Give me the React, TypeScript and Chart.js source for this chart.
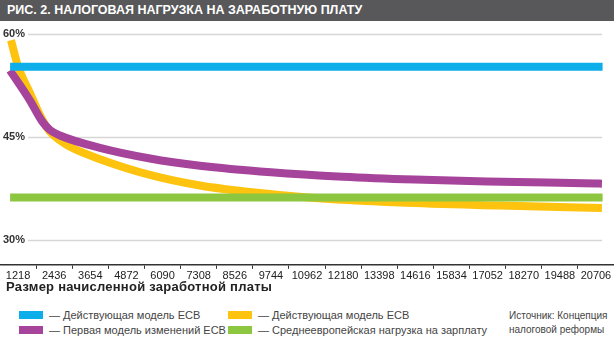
import React, { useEffect, useRef } from "react";
import { Chart, registerables } from "chart.js";

Chart.register(...registerables);

// ---- data ----
const tickLabels = [
  "1218", "2436", "3654", "4872", "6090", "7308", "8526", "9744", "10962",
  "12180", "13398", "14616", "15834", "17052", "18270", "19488", "20706",
];
const yTicks = [30, 45, 60];

const blueX = [950, 20930];
const blueY = [55.25, 55.25];

const greenX = [950, 20930];
const greenY = [36.15, 36.15];

const purpleX = [946, 1621, 2025, 2295, 2632, 3981, 5667, 7353, 9747, 12175, 14603, 17031, 20706, 20908];
const purpleY = [54.7, 50.3, 47.3, 46.0, 45.2, 43.4, 41.85, 40.8, 39.85, 39.2, 38.78, 38.5, 38.2, 38.18];

const yellowX = [980, 1216, 1621, 1958, 2295, 2632, 2969, 3981, 5667, 7353, 9039, 10894, 14097, 17469, 20908];
const yellowY = [59.1, 55.3, 51.4, 48.15, 45.75, 44.5, 43.55, 41.75, 39.45, 37.9, 36.95, 36.2, 35.42, 34.98, 34.62];

const legendLeft = [
  { color: "#0eaeea", text: "— Действующая модель ЕСВ" },
  { color: "#a6439a", text: "— Первая модель изменений ЕСВ" },
];
const legendRight = [
  { color: "#fdc30e", text: "— Действующая модель ЕСВ" },
  { color: "#8dc63f", text: "— Среднеевропейская нагрузка на зарплату" },
];

const FONT = "'Liberation Sans', Arial, Helvetica, sans-serif";

const pts = (xs: number[], ys: number[]) => xs.map((x, i) => ({ x, y: ys[i] }));

const gridPlugin = {
  id: "customGrid",
  beforeDatasetsDraw(chart: any) {
    const { ctx, chartArea } = chart;
    const y = chart.scales.y;
    ctx.save();
    ctx.strokeStyle = "#d6d6d6";
    ctx.lineWidth = 1.5;
    for (const v of yTicks) {
      const py = Math.round(y.getPixelForValue(v)) + 0.5;
      ctx.beginPath();
      ctx.moveTo(chartArea.left + 28, py);
      ctx.lineTo(chartArea.right - 12, py);
      ctx.stroke();
    }
    ctx.restore();
  },
};

export default function App() {
  const ref = useRef<HTMLCanvasElement>(null);

  useEffect(() => {
    if (!ref.current) return;
    const line = (label: string, data: any[], color: string) => ({
      label,
      data,
      xAxisID: "xs",
      yAxisID: "y",
      borderColor: color,
      backgroundColor: color,
      borderWidth: 8,
      pointRadius: 0,
      fill: false,
      cubicInterpolationMode: "monotone" as const,
      borderCapStyle: "butt" as const,
    });
    const chart = new Chart(ref.current, {
      type: "line",
      data: {
        labels: tickLabels,
        datasets: [
          line("Действующая модель ЕСВ", pts(blueX, blueY), "#0eaeea"),
          line("Первая модель изменений ЕСВ", pts(purpleX, purpleY), "#a6439a"),
          line("Среднеевропейская нагрузка на зарплату", pts(greenX, greenY), "#8dc63f"),
          line("Действующая модель ЕСВ ", pts(yellowX, yellowY), "#fdc30e"),
        ],
      },
      options: {
        responsive: false,
        animation: false,
        layout: { padding: { top: 2, left: 0, right: 0, bottom: 0 } },
        plugins: { legend: { display: false }, tooltip: { enabled: false } },
        scales: {
          x: {
            type: "category",
            labels: tickLabels,
            offset: true,
            grid: {
              offset: true,
              drawOnChartArea: false,
              drawTicks: true,
              tickLength: 4,
              color: "#333",
              lineWidth: 1,
            },
            border: { display: true, color: "#333", width: 1.5 },
            ticks: {
              autoSkip: false,
              maxRotation: 0,
              padding: 1,
              color: "#222",
              font: { family: FONT, size: 11 },
            },
            afterFit: (s: any) => {
              s.paddingLeft = 0;
              s.paddingRight = 0;
            },
          },
          xs: {
            type: "linear",
            display: false,
            min: 609,
            max: 21315,
          },
          y: {
            type: "linear",
            position: "left",
            min: 26.34,
            max: 61.76,
            afterBuildTicks: (s: any) => {
              s.ticks = yTicks.map((v) => ({ value: v }));
            },
            afterFit: (s: any) => {
              s.width = 0;
              s.paddingTop = 0;
              s.paddingBottom = 0;
            },
            grid: { display: false },
            border: { display: false },
            ticks: {
              mirror: true,
              padding: 3,
              color: "#333",
              font: { family: FONT, size: 11, weight: "bold" },
              callback: (v: any) => v + "%",
            },
          },
        },
      },
      plugins: [gridPlugin],
    });
    return () => chart.destroy();
  }, []);

  const legendItem = (item: { color: string; text: string }, left: number, top: number) => (
    <div key={item.text + left} style={{ position: "absolute", left, top, height: 15, display: "flex", alignItems: "center" }}>
      <div style={{ width: 24, height: 8, background: item.color }} />
      <span style={{ marginLeft: 6, fontSize: 11, color: "#444", whiteSpace: "nowrap" }}>{item.text}</span>
    </div>
  );

  return (
    <div style={{ position: "fixed", left: 0, top: 0, width: 614, height: 341, background: "#fff", overflow: "hidden", fontFamily: FONT }}>
      <div style={{ position: "absolute", left: 0, top: 0, width: 614, height: 21, background: "#58585a" }}>
        <div style={{ position: "absolute", left: 7, top: 3, color: "#fff", fontWeight: "bold", fontSize: 12.5, whiteSpace: "nowrap", lineHeight: "15px" }}>
          РИС. 2. НАЛОГОВАЯ НАГРУЗКА НА ЗАРАБОТНУЮ ПЛАТУ
        </div>
      </div>
      <canvas ref={ref} width={614} height={264} style={{ position: "absolute", left: 0, top: 20, width: 614, height: 264 }} />
      <div style={{ position: "absolute", left: 6, top: 279, fontSize: 13, letterSpacing: 0.25, fontWeight: "bold", color: "#222", whiteSpace: "nowrap", lineHeight: "16px" }}>
        Размер начисленной заработной платы
      </div>
      {legendItem(legendLeft[0], 19, 307)}
      {legendItem(legendLeft[1], 19, 322)}
      {legendItem(legendRight[0], 228, 307)}
      {legendItem(legendRight[1], 228, 322)}
      <div style={{ position: "absolute", left: 509, top: 309, fontSize: 10, color: "#444", lineHeight: "14px", whiteSpace: "nowrap" }}>
        Источник: Концепция
        <br />
        налоговой реформы
      </div>
    </div>
  );
}
